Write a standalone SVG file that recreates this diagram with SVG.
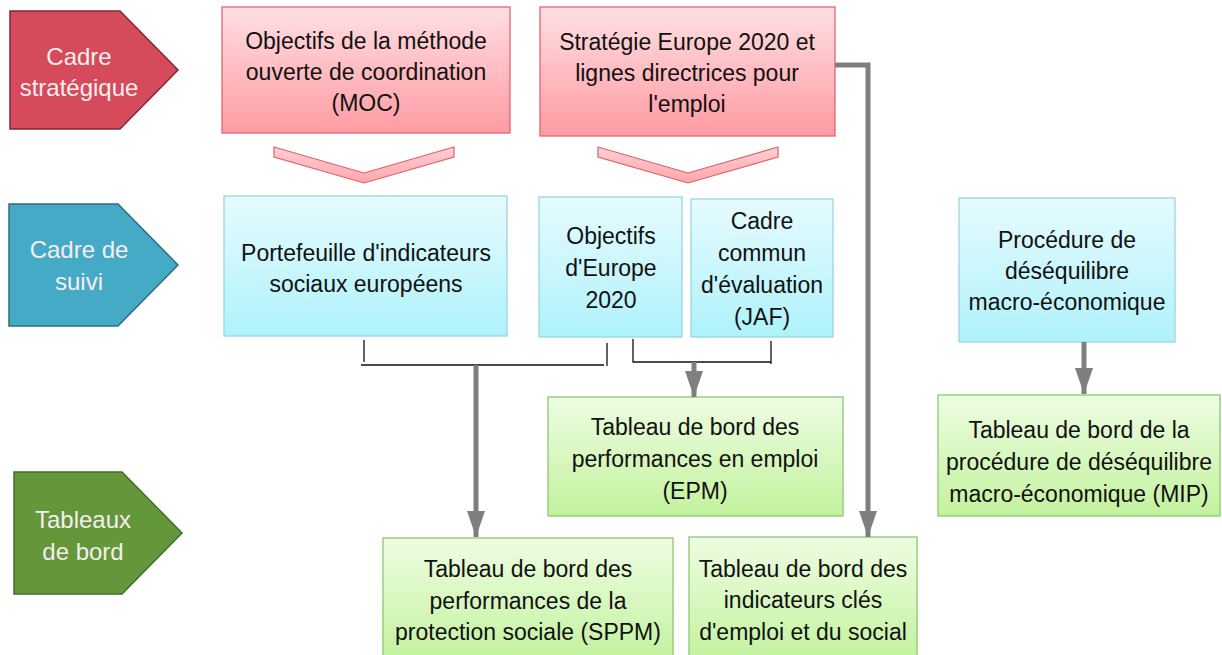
<svg xmlns="http://www.w3.org/2000/svg" width="1222" height="655" viewBox="0 0 1222 655">
<defs>
<linearGradient id="gRed" x1="0" y1="0" x2="0" y2="1"><stop offset="0" stop-color="#ffdfe2"/><stop offset="1" stop-color="#ff9ba3"/></linearGradient>
<linearGradient id="gBlue" x1="0" y1="0" x2="0" y2="1"><stop offset="0" stop-color="#e6fbfe"/><stop offset="1" stop-color="#aff2fb"/></linearGradient>
<linearGradient id="gGreen" x1="0" y1="0" x2="0" y2="1"><stop offset="0" stop-color="#edfde2"/><stop offset="1" stop-color="#c3f29e"/></linearGradient>
<linearGradient id="gChev" x1="0" y1="0" x2="0" y2="1"><stop offset="0" stop-color="#ffd0d4"/><stop offset="1" stop-color="#ffa6ad"/></linearGradient>
<marker id="arr" viewBox="0 0 26 18" refX="26" refY="9" markerWidth="26" markerHeight="18" markerUnits="userSpaceOnUse" orient="auto"><path d="M0,0 L26,9 L0,18 Z" fill="#7f7f7f"/></marker>
</defs>
<style>
text{font-family:"Liberation Sans Narrow","Arial Narrow","Liberation Sans",sans-serif;font-size:23px;text-anchor:middle;fill:#111}
.lab text{fill:#f6eeee;font-size:24px}
.red{fill:url(#gRed);stroke:#e8636e;stroke-width:1.3}
.blue{fill:url(#gBlue);stroke:#9ad5e2;stroke-width:1.3}
.green{fill:url(#gGreen);stroke:#8dc86f;stroke-width:1.3}
.chev{fill:url(#gChev);stroke:#e0606a;stroke-width:1.2}
.thin{fill:none;stroke:#111;stroke-width:1.3}
.thick{fill:none;stroke:#7f7f7f;stroke-width:5;marker-end:url(#arr)}
</style>
<g id="lab-strategique" class="lab">
<polygon points="10,11 120,11 178,70 120,129 10,129" fill="#d64b5b" stroke="#7d2a33" stroke-width="1.5"/>
<text x="79" y="65">Cadre</text><text x="79" y="96">stratégique</text>
</g>
<g id="lab-suivi" class="lab">
<polygon points="9,204 118,204 178,265 118,326 9,326" fill="#45aac6" stroke="#2c6d80" stroke-width="1.5"/>
<text x="79" y="258">Cadre de</text><text x="79" y="290">suivi</text>
</g>
<g id="lab-tableaux" class="lab">
<polygon points="14,472 122,472 182,533 122,594 14,594" fill="#64963a" stroke="#466b28" stroke-width="1.5"/>
<text x="83" y="528">Tableaux</text><text x="83" y="560">de bord</text>
</g>
<g id="moc"><rect class="red" x="222" y="7" width="288" height="126"/>
<text x="366" y="49">Objectifs de la méthode</text><text x="366" y="80">ouverte de coordination</text><text x="366" y="111">(MOC)</text></g>
<g id="strategie"><rect class="red" x="540" y="7" width="295" height="129"/>
<text x="687" y="50">Stratégie Europe 2020 et</text><text x="687" y="81">lignes directrices pour</text><text x="687" y="112">l'emploi</text></g>
<g id="chev1"><polygon class="chev" points="274,147 364,173 454,147 454,157 364,183 274,157"/></g>
<g id="chev2"><polygon class="chev" points="598,147 688,173 778,147 778,157 688,183 598,157"/></g>
<g id="portefeuille"><rect class="blue" x="224" y="196" width="283" height="140"/>
<text x="366" y="261">Portefeuille d'indicateurs</text><text x="366" y="292">sociaux européens</text></g>
<g id="objectifs2020"><rect class="blue" x="539" y="197" width="143" height="140"/>
<text x="611" y="244">Objectifs</text><text x="611" y="276">d'Europe</text><text x="611" y="308">2020</text></g>
<g id="jaf"><rect class="blue" x="691" y="199" width="142" height="138"/>
<text x="762" y="229">Cadre</text><text x="762" y="261">commun</text><text x="762" y="293">d'évaluation</text><text x="762" y="325">(JAF)</text></g>
<g id="procedure"><rect class="blue" x="959" y="198" width="216" height="144"/>
<text x="1067" y="248">Procédure de</text><text x="1067" y="279">déséquilibre</text><text x="1067" y="310">macro-économique</text></g>
<g id="epm"><rect class="green" x="548" y="397" width="295" height="119"/>
<text x="695" y="435">Tableau de bord des</text><text x="695" y="467">performances en emploi</text><text x="695" y="499">(EPM)</text></g>
<g id="mip"><rect class="green" x="938" y="395" width="282" height="121"/>
<text x="1079" y="438">Tableau de bord de la</text><text x="1079" y="470">procédure de déséquilibre</text><text x="1079" y="502">macro-économique (MIP)</text></g>
<g id="sppm"><rect class="green" x="383" y="538" width="290" height="124"/>
<text x="528" y="577">Tableau de bord des</text><text x="528" y="609">performances de la</text><text x="528" y="640">protection sociale (SPPM)</text></g>
<g id="cles"><rect class="green" x="689" y="537" width="228" height="125"/>
<text x="803" y="577">Tableau de bord des</text><text x="803" y="608">indicateurs clés</text><text x="803" y="640">d'emploi et du social</text></g>
<g id="connectors">
<path class="thin" d="M364,340 V362 M361,365 H604 M607,343 V366"/>
<path class="thin" d="M633,339 V362 H771 M771,341 V364"/>
<path class="thick" d="M476,365 V537"/>
<path class="thick" d="M694,362 V397"/>
<path class="thick" d="M835,65 H868 V537"/>
<path class="thick" d="M1084,342 V394"/>
</g>
</svg>
